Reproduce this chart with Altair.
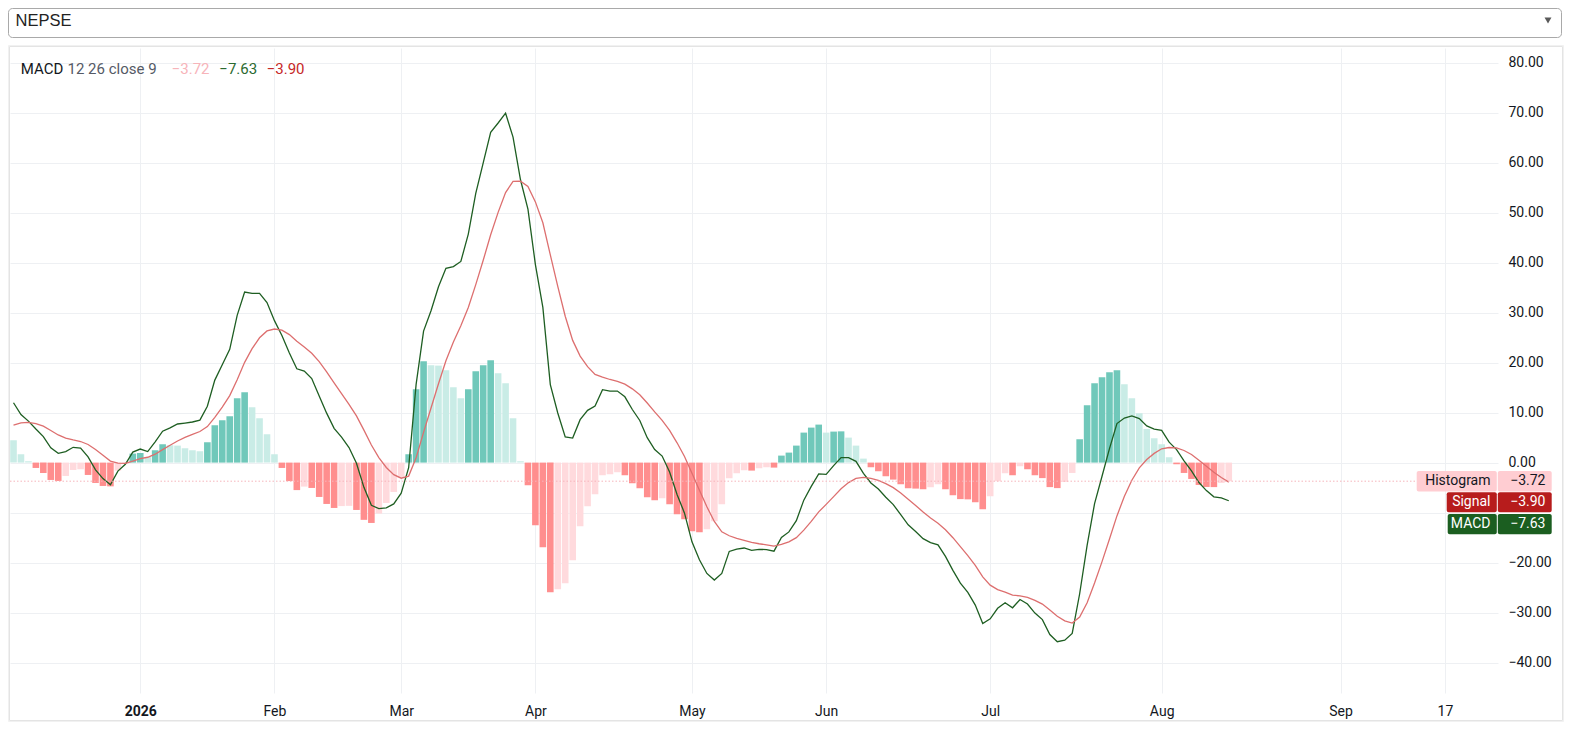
import altair as alt
import numpy as np
import pandas as pd

# ---------------- data ----------------
hist = [4.47, 1.67, 0.27, -1.07, -2.07, -3.47, -3.67, -2.67, -1.47, -1.33,
        -2.47, -4.07, -4.67, -4.75, -1.6, -0.2, 1.8, 1.93, 1.13, 2.47,
        3.67, 3.47, 3.4, 2.87, 2.47, 2.27, 4.07, 7.47, 8.47, 9.27,
        12.87, 14.07, 11.07, 8.87, 5.67, 1.67, -1.07, -3.7, -5.5, -4.8,
        -5.07, -6.87, -8.27, -9.07, -8.7, -8.65, -9.47, -11.45, -12.07, -10.2,
        -8.07, -5.87, -3.0, 1.67, 14.67, 20.27, 19.47, 19.4, 18.47, 15.07,
        12.87, 14.67, 18.27, 19.47, 20.47, 17.87, 15.87, 8.87, 0.27, -4.53,
        -12.53, -16.93, -25.93, -25.33, -24.13, -19.53, -12.73, -8.73, -6.33, -2.53,
        -2.33, -1.93, -2.53, -4.13, -5.13, -6.93, -7.53, -7.13, -8.33, -10.33,
        -11.33, -13.73, -13.93, -13.33, -11.73, -8.33, -3.13, -2.13, -1.53, -1.6,
        -1.13, -0.93, -1.0, 1.4, 2.0, 3.4, 6.0, 7.0, 7.6, 6.0,
        6.2, 6.25, 5.0, 3.4, 0.8, -0.93, -1.73, -2.73, -3.4, -4.33,
        -5.13, -5.2, -5.33, -4.93, -4.33, -5.33, -6.53, -7.3, -7.35, -7.93,
        -9.33, -6.73, -3.73, -2.13, -2.53, -0.73, -1.33, -2.53, -3.1, -4.9,
        -5.1, -3.87, -2.07, 4.67, 11.47, 15.87, 17.07, 18.07, 18.47, 15.67,
        12.87, 9.87, 6.73, 4.87, 3.67, 1.07, -0.33, -2.07, -3.27, -4.47,
        -4.87, -4.9, -4.07, -3.72]

macd = [11.97, 9.61, 8.30, 6.71, 5.21, 2.96, 1.86, 2.21, 3.06, 2.89,
        1.15, -1.45, -3.20, -4.45, -1.70, -0.35, 2.10, 2.71, 2.20, 4.15,
        6.27, 6.94, 7.72, 7.91, 8.12, 8.49, 11.27, 16.50, 19.58, 22.66,
        29.44, 34.12, 33.85, 33.83, 32.01, 28.39, 25.42, 21.90, 18.76, 18.30,
        16.80, 13.32, 9.89, 6.86, 5.09, 3.01, -0.14, -4.95, -8.55, -9.19,
        -9.04, -8.27, -6.12, -1.03, 15.64, 26.31, 30.38, 35.16, 38.85, 39.21,
        40.23, 45.70, 53.86, 59.93, 66.05, 67.92, 69.88, 65.10, 56.57, 50.69,
        39.61, 31.03, 15.60, 9.92, 5.14, 4.91, 8.58, 10.45, 11.32, 14.58,
        14.29, 14.30, 13.16, 10.62, 8.43, 4.99, 2.60, 1.31, -1.88, -6.37,
        -10.11, -15.85, -19.44, -22.17, -23.50, -22.18, -17.76, -17.29, -17.08, -17.55,
        -17.36, -17.39, -17.71, -14.96, -13.86, -11.61, -7.51, -4.76, -2.26, -2.36,
        -0.61, 1.00, 1.00, 0.25, -2.15, -4.08, -5.28, -6.93, -8.41, -10.39,
        -12.44, -13.77, -15.20, -16.00, -16.45, -18.75, -21.55, -24.11, -25.96, -28.49,
        -32.19, -31.24, -29.14, -28.04, -29.04, -27.39, -28.29, -30.09, -31.40, -34.39,
        -35.83, -35.53, -34.17, -26.23, -16.56, -8.20, -2.73, 2.79, 7.81, 8.92,
        9.34, 8.81, 7.35, 6.71, 6.43, 4.09, 2.61, 0.35, -1.66, -3.98,
        -5.60, -6.85, -7.04, -7.63]

signal = [7.50, 7.94, 8.03, 7.78, 7.28, 6.43, 5.53, 4.88, 4.53, 4.22,
          3.62, 2.62, 1.47, 0.30, -0.10, -0.15, 0.30, 0.78, 1.07, 1.68,
          2.60, 3.47, 4.32, 5.04, 5.65, 6.22, 7.20, 9.03, 11.11, 13.39,
          16.57, 20.05, 22.78, 24.96, 26.34, 26.72, 26.49, 25.60, 24.26, 23.10,
          21.87, 20.19, 18.16, 15.93, 13.79, 11.66, 9.33, 6.50, 3.52, 1.01,
          -0.97, -2.40, -3.12, -2.70, 0.97, 6.04, 10.91, 15.76, 20.38, 24.14,
          27.36, 31.03, 35.59, 40.46, 45.58, 50.05, 54.01, 56.23, 56.30, 55.22,
          52.14, 47.96, 41.53, 35.25, 29.27, 24.44, 21.31, 19.18, 17.65, 17.11,
          16.62, 16.23, 15.69, 14.75, 13.56, 11.92, 10.13, 8.44, 6.45, 3.96,
          1.22, -2.12, -5.51, -8.84, -11.77, -13.85, -14.63, -15.16, -15.55, -15.95,
          -16.23, -16.46, -16.71, -16.36, -15.86, -15.01, -13.51, -11.76, -9.86, -8.36,
          -6.81, -5.25, -4.00, -3.15, -2.95, -3.15, -3.55, -4.20, -5.01, -6.06,
          -7.31, -8.57, -9.87, -11.07, -12.12, -13.42, -15.02, -16.81, -18.61, -20.56,
          -22.86, -24.51, -25.41, -25.91, -26.51, -26.66, -26.96, -27.56, -28.30, -29.49,
          -30.73, -31.66, -32.10, -30.90, -28.03, -24.07, -19.80, -15.28, -10.66, -6.75,
          -3.53, -1.06, 0.62, 1.84, 2.76, 3.02, 2.94, 2.42, 1.61, 0.49,
          -0.73, -1.95, -2.97, -3.90]

tick_index = [17, 35, 52, 70, 91, 109, 131, 154, 178, 192]
tick_labels = ["2026", "Feb", "Mar", "Apr", "May", "Jun", "Jul", "Aug", "Sep", "17"]
bold_tick = 17
y_ticks = [-40, -30, -20, -10, 0, 10, 20, 30, 40, 50, 60, 70, 80]
hidden_y_tick = -10          # covered by the value labels in the reference
symbol_name = "NEPSE"
study_name = "MACD"
study_params = "12 26 close 9"
series_names = ["Histogram", "Signal", "MACD"]

# ---------------- derived table ----------------
n = len(hist)
df = pd.DataFrame({"idx": np.arange(n), "hist": hist, "macd": macd, "signal": signal})
rising = df["hist"] > df["hist"].shift(1)
df["state"] = np.where(df["hist"] >= 0,
                       np.where(rising, "grow_above", "fall_above"),
                       np.where(rising, "grow_below", "fall_below"))

def fmt(v):
    return ("\u2212" if v < 0 else "") + f"{abs(v):.2f}"

last = pd.DataFrame({"h": [hist[-1]], "s": [signal[-1]], "m": [macd[-1]],
                     "ht": [fmt(hist[-1])], "st": [fmt(signal[-1])], "mt": [fmt(macd[-1])]})
one = pd.DataFrame({"k": [0]})

# ---------------- styling ----------------
FONT = "Roboto"
TXT = "#131722"
GRID = "#eef0f3"
C_MACD = "#1e5e22"
C_SIG = "#dd6f6f"
C_SIG_BOX = "#b71c1c"
C_MACD_BOX = "#1b5e20"
C_HIST_BOX = "#ffcdd2"
LEG_SIZE = 15

X_DOMAIN = [0.2, 198.44]
Y_DOMAIN = [-46.08, 82.92]
xs = alt.Scale(domain=X_DOMAIN, nice=False, zero=False)
ys = alt.Scale(domain=Y_DOMAIN, nice=False, zero=False)

label_expr = ""
for v, l in zip(tick_index, tick_labels):
    label_expr += f"datum.value == {v} ? '{l}' : "
label_expr += "''"

x_axis = alt.Axis(values=tick_index, labelExpr=label_expr, grid=True, gridColor=GRID,
                  gridWidth=1, ticks=False, tickSize=0, domain=False, title=None,
                  labelFont=FONT, labelFontSize=14, labelColor=TXT,
                  labelFontWeight={"condition": {"test": f"datum.value == {bold_tick}", "value": "bold"},
                                   "value": "normal"},
                  labelBaseline="middle", labelPadding=18, labelFlush=False, labelOverlap=False)
y_axis = alt.Axis(orient="right", values=y_ticks, grid=True, gridColor=GRID,
                  labelExpr=f"datum.value == {hidden_y_tick} ? '' : replace(format(datum.value, '.2f'), '-', '\u2212')",
                  gridWidth=1, ticks=False, tickSize=0, domain=False, title=None,
                  labelFont=FONT, labelFontSize=14, labelColor=TXT, labelAlign="left",
                  labelPadding=10, labelOverlap=False)

bars = alt.Chart(df).mark_bar(size=6.6, clip=True).encode(
    x=alt.X("idx:Q", scale=xs, axis=x_axis),
    y=alt.Y("hist:Q", scale=ys, axis=y_axis),
    y2=alt.datum(0),
    color=alt.Color("state:N", legend=None,
                    scale=alt.Scale(domain=["grow_above", "fall_above", "grow_below", "fall_below"],
                                    range=["#70c8ba", "#c9ece6", "#ffdadd", "#ff8e8e"])),
)

macd_line = alt.Chart(df).mark_line(color=C_MACD, strokeWidth=1.3, clip=True).encode(
    x=alt.X("idx:Q", scale=xs), y=alt.Y("macd:Q", scale=ys))
sig_line = alt.Chart(df).mark_line(color=C_SIG, strokeWidth=1.3, clip=True).encode(
    x=alt.X("idx:Q", scale=xs), y=alt.Y("signal:Q", scale=ys))

dotted = alt.Chart(last).mark_rule(color="#f5b5bb", strokeWidth=1, strokeDash=[1.5, 2]).encode(
    y=alt.Y("h:Q", scale=ys), x=alt.value(0), x2=alt.value(1406))

# ---- price-scale labels (right) ----
def box(field, x0, x1, top, bottom, fill):
    return alt.Chart(last).mark_rect(color=fill, cornerRadius=2, yOffset=top, y2Offset=bottom).encode(
        y=alt.Y(f"{field}:Q", scale=ys), y2=alt.Y2(field), x=alt.value(x0), x2=alt.value(x1))

def label(field, text_field, x, dy, color, align):
    return alt.Chart(last).mark_text(font=FONT, fontSize=14, color=color, align=align,
                                     baseline="middle", dy=dy).encode(
        y=alt.Y(f"{field}:Q", scale=ys), x=alt.value(x), text=alt.Text(text_field))

def name_label(field, name, x, dy, color):
    return alt.Chart(last).mark_text(font=FONT, fontSize=14, color=color, align="right",
                                     baseline="middle", dy=dy, text=name).encode(
        y=alt.Y(f"{field}:Q", scale=ys), x=alt.value(x))

h_box_l = box("h", 1406.7, 1486.8, -10.3, 10.3, C_HIST_BOX)
h_box_r = box("h", 1487.8, 1541.7, -10.3, 10.3, C_HIST_BOX)
s_box_l = box("s", 1436.7, 1486.8, 10.2, 30.2, C_SIG_BOX)
s_box_r = box("s", 1487.8, 1541.7, 10.2, 30.2, C_SIG_BOX)
m_box_l = box("m", 1437.7, 1486.8, 13.3, 33.5, C_MACD_BOX)
m_box_r = box("m", 1487.8, 1541.7, 13.3, 33.5, C_MACD_BOX)

h_name = name_label("h", series_names[0], 1480.5, 0, TXT)
s_name = name_label("s", series_names[1], 1480.5, 20.2, "white")
m_name = name_label("m", series_names[2], 1480.5, 23.4, "white")
h_val = label("h", "ht", 1535.5, 0, TXT, "right")
s_val = label("s", "st", 1535.5, 20.2, "white", "right")
m_val = label("m", "mt", 1535.5, 23.4, "white", "right")

# ---- study legend (top-left) ----
leg_name = alt.Chart(one).mark_text(font=FONT, fontSize=LEG_SIZE, color=TXT, align="left",
                                    baseline="middle", text=study_name).encode(
    x=alt.value(10.7), y=alt.value(21))
leg_params = alt.Chart(one).mark_text(font=FONT, fontSize=LEG_SIZE, color="#555a66", align="left",
                                      baseline="middle", text=study_params).encode(
    x=alt.value(57.5), y=alt.value(21))
leg_h = alt.Chart(last).mark_text(font=FONT, fontSize=LEG_SIZE, color="#f7b4ba", align="left",
                                  baseline="middle").encode(
    x=alt.value(161.7), y=alt.value(21), text="ht:N")
leg_m = alt.Chart(last).mark_text(font=FONT, fontSize=LEG_SIZE, color="#2b6a30", align="left",
                                  baseline="middle").encode(
    x=alt.value(209.3), y=alt.value(21), text="mt:N")
leg_s = alt.Chart(last).mark_text(font=FONT, fontSize=LEG_SIZE, color="#c62828", align="left",
                                  baseline="middle").encode(
    x=alt.value(256.7), y=alt.value(21), text="st:N")

# ---- page chrome: symbol select box and pane shadow ----
select_box = alt.Chart(one).mark_rect(fill="white", stroke="#a9a9a9", strokeWidth=1,
                                      cornerRadius=4).encode(
    x=alt.value(-1.5), x2=alt.value(1551.5), y=alt.value(-39.5), y2=alt.value(-10.5))
select_text = alt.Chart(one).mark_text(font="Liberation Sans", fontSize=16.5, color="#222222",
                                       align="left", baseline="middle", text=symbol_name).encode(
    x=alt.value(5.5), y=alt.value(-27.3))
select_arrow = alt.Chart(one).mark_point(shape="triangle-down", filled=True, size=48,
                                         color="#5a5a5a", opacity=1).encode(
    x=alt.value(1538), y=alt.value(-27.5))

shadow1 = alt.Chart(one).mark_rect(fill=None, stroke="#f1f1f1", strokeWidth=1).encode(
    x=alt.value(-1.5), x2=alt.value(1553.5), y=alt.value(-2.5), y2=alt.value(673.5))
shadow2 = alt.Chart(one).mark_rect(fill=None, stroke="#e4e4e4", strokeWidth=1).encode(
    x=alt.value(-0.5), x2=alt.value(1552.5), y=alt.value(-1.5), y2=alt.value(672.5))

chart = alt.layer(
    shadow1, shadow2, select_box, select_text, select_arrow,
    bars, macd_line, sig_line, dotted,
    h_box_l, h_box_r, s_box_l, s_box_r, m_box_l, m_box_r,
    h_name, s_name, m_name, h_val, s_val, m_val,
    leg_name, leg_params, leg_h, leg_m, leg_s,
).properties(
    width=1488, height=645,
    padding={"left": 2, "top": 40, "right": 67, "bottom": 29},
    autosize=alt.AutoSizeParams(type="none"),
    background="white",
).configure_view(stroke=None)

chart.save("out.html", embed_options={"renderer": "svg", "actions": False})
